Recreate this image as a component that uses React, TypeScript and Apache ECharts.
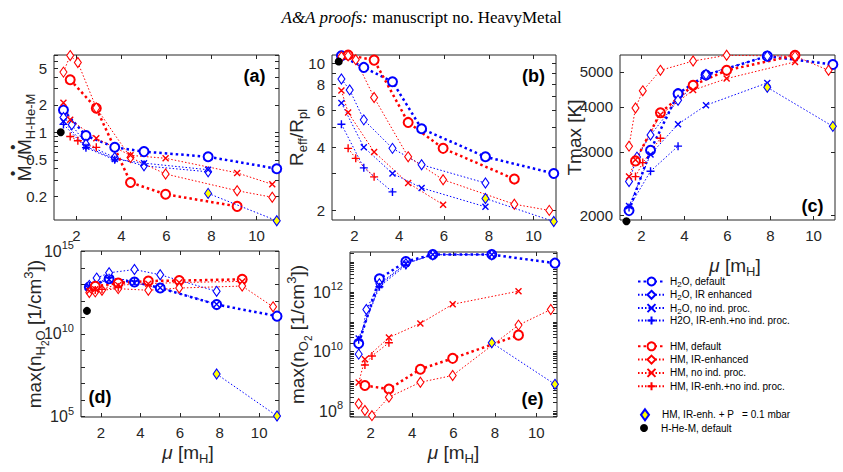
import React, { useEffect, useRef } from 'react';
import * as echarts from 'echarts';

// ---- mean molecular weight μ [m_H] of each model family ----
const muH2oDefault = [1.42, 2.42, 3.7, 5.0, 7.85, 10.9];
const muH2oIR = [1.42, 1.79, 2.42, 3.7, 5.0, 7.85];
const muH2oNoInd = [1.42, 2.42, 3.7, 5.0, 7.85];
const muH2oIRNoInd = [1.42, 2.42, 3.7];
const muHmDefault = [1.72, 2.88, 4.4, 5.96, 9.14];
const muHmIR = [1.42, 1.72, 2.06, 2.88, 4.4, 5.96, 9.14, 10.7];
const muHmNoInd = [1.42, 1.72, 2.88, 4.4, 5.96, 9.14, 10.7];
const muHmIRNoInd = [1.72, 2.06, 2.88];
const muLowP = [7.85, 10.9];
const muHHeM = [1.3];

// ---- (a) mass-loss rate relative to H-He-M ----
const aH2oDefault = [1.75, 0.92, 0.685, 0.615, 0.54, 0.4];
const aH2oIR = [1.45, 1.21, 0.74, 0.53, 0.43, 0.37];
const aH2oNoInd = [1.32, 0.7, 0.51, 0.46, 0.39];
const aH2oIRNoInd = [1.22, 0.68, 0.5];
const aHmDefault = [3.75, 1.83, 0.283, 0.21, 0.155];
const aHmIR = [4.55, 6.9, 5.8, 1.85, 0.53, 0.35, 0.23, 0.195];
const aHmNoInd = [2.1, 1.37, 0.86, 0.56, 0.52, 0.36, 0.27];
const aHmIRNoInd = [0.9, 0.81, 0.685];
const aLowP = [0.215, 0.108];
const aHHeM = [1.0];

// ---- (b) effective radius R_eff / R_pl ----
const bH2oDefault = [10.9, 9.6, 8.2, 4.9, 3.6, 3.0];
const bH2oIR = [8.45, 7.5, 5.4, 3.95, 3.3, 2.7];
const bH2oNoInd = [6.5, 4.0, 3.0, 2.56, 2.08];
const bH2oIRNoInd = [5.15, 3.19, 2.45];
const bHmDefault = [11.0, 10.4, 5.25, 3.95, 2.82];
const bHmIR = [10.8, 10.9, 10.45, 6.9, 3.6, 2.8, 2.14, 2.0];
const bHmNoInd = [7.45, 5.85, 3.8, 2.7, 2.13, null, null];
const bHmIRNoInd = [3.95, 3.54, 2.89];
const bLowP = [2.28, 1.77];
const bHHeM = [10.25];

// ---- (c) maximum temperature [K] ----
const cH2oDefault = [2060, 3030, 4350, 4900, 5530, 5240];
const cH2oIR = [2480, 2900, 3340, 4170, 4920, 5530];
const cH2oNoInd = [2120, 2950, 3580, 4040, 4660];
const cH2oIRNoInd = [2100, 2650, 3110];
const cHmDefault = [2830, 3850, 4590, 5050, 5560];
const cHmIR = [3110, 3970, 4430, 5050, 5360, 5560, 5530, 5050];
const cHmNoInd = [2560, 2850, 3800, 4450, 4790, 5330, null];
const cHmIRNoInd = [2560, 2800, 3270];
const cLowP = [4530, 3530];
const cHHeM = [1925];

// ---- (d) peak H2O number density [1/cm^3] ----
const dH2oDefault = [6.9e12, 2.2e13, 1.4e13, 6.0e12, 6.0e11, 1.2e11];
const dH2oIR = [8.7e12, 2.4e13, 5.0e13, 7.9e13, 3.8e13, 3.8e12];
const dH2oNoInd = [7.5e12, 2.0e13, 1.2e13, 6.3e12, 6.3e11];
const dH2oIRNoInd = [8.0e12, 2.5e13, 1.6e13];
const dHmDefault = [7.6e12, 1.2e13, 1.6e13, 1.7e13, 2.0e13];
const dHmIR = [3.2e12, 3.5e12, 4.4e12, 5.5e12, 4.4e12, 6.0e12, 7.9e12, 4.4e11];
const dHmNoInd = [4.0e12, 5.0e12, 9.0e12, 1.1e13, 1.3e13, 1.5e13, null];
const dHmIRNoInd = [4.5e12, 5.0e12, 6.5e12];
const dLowP = [3.8e7, 1.1e5];
const dHHeM = [2.5e11];

// ---- (e) peak O2 number density [1/cm^3] ----
const eH2oDefault = [1.9e10, 2.8e12, 1.05e13, 1.8e13, 1.8e13, 9.3e12];
const eH2oIR = [8.3e9, 2.6e11, 1.9e12, 8.9e12, 1.78e13, 1.78e13];
const eH2oNoInd = [2.8e10, 1.7e12, 8.9e12, 1.8e13, 1.8e13];
const eH2oIRNoInd = [2.5e10, 1.5e12, 7.9e12];
const eHmDefault = [7.4e8, 5.6e8, 2.6e9, 6.0e9, 3.6e10];
const eHmIR = [1.8e8, 1.07e8, 7.2e7, 3.0e8, 9.5e8, 1.6e9, 7.8e10, 2.6e11];
const eHmNoInd = [9.3e8, 5.6e9, 3.0e10, 8.9e10, 3.9e11, 1.07e12, null];
const eHmIRNoInd = [3.6e9, 7.2e9, 2.0e10];
const eLowP = [2.0e10, 8.1e8];

// ---- tick values ----
const xTickValues = [2, 4, 6, 8, 10];
const aTickLabels = [0.2, 0.5, 1, 2, 5];
const bTickLabels = [2, 4, 6, 8, 10];
const cTickLabels = [2000, 3000, 4000, 5000];
const dTickLabels = [1e5, 1e10, 1e15];
const eTickLabels = [1e8, 1e10, 1e12];

const FONT = '"Liberation Sans", Arial, Helvetica, sans-serif';
const SERIF = '"Liberation Serif", "Times New Roman", serif';
const AX = '#262626';
const BLUE = '#0000ff';
const RED = '#ff0000';
const YELLOW = '#ffff00';
const SYM_X = 'path://M0,0L10,10M10,0L0,10';
const SYM_PLUS = 'path://M5,0L5,10M0,5L10,5';

// decade (and optionally 2..9 sub-decade) tick positions of a log axis
function logTicks(min: number, max: number, minor: boolean): number[] {
  const out: number[] = [];
  const steps = minor ? [1, 2, 3, 4, 5, 6, 7, 8, 9] : [1];
  for (let k = Math.floor(Math.log10(min)); k <= Math.ceil(Math.log10(max)); k++) {
    for (const m of steps) {
      const v = Number((m * Math.pow(10, k)).toPrecision(6));
      if (v >= min && v <= max) out.push(v);
    }
  }
  return out;
}

type Family = {
  name: string;
  mu: number[];
  color: string;
  symbol: string;
  size: number | number[];
  lw: number;
  dash: number[];
  fill: string;
  bw: number;
  z: number;
};

const THIN = [1.5, 2];
const THICK = [2.5, 3];

const families: Family[] = [
  { name: 'H2O, default', mu: muH2oDefault, color: BLUE, symbol: 'circle', size: 9, lw: 2.5, dash: THICK, fill: '#fff', bw: 2, z: 2 },
  { name: 'H2O, IR enhanced', mu: muH2oIR, color: BLUE, symbol: 'diamond', size: [7, 10], lw: 1, dash: THIN, fill: '#fff', bw: 1.1, z: 2 },
  { name: 'H2O, no ind. proc.', mu: muH2oNoInd, color: BLUE, symbol: SYM_X, size: 6, lw: 1, dash: THIN, fill: BLUE, bw: 1.4, z: 2 },
  { name: 'H2O, IR-enh.+no ind. proc.', mu: muH2oIRNoInd, color: BLUE, symbol: SYM_PLUS, size: 8, lw: 1, dash: THIN, fill: BLUE, bw: 1.4, z: 2 },
  { name: 'HM, default', mu: muHmDefault, color: RED, symbol: 'circle', size: 9, lw: 2.5, dash: THICK, fill: '#fff', bw: 2, z: 2 },
  { name: 'HM, IR-enhanced', mu: muHmIR, color: RED, symbol: 'diamond', size: [7, 10], lw: 1, dash: THIN, fill: '#fff', bw: 1.1, z: 2 },
  { name: 'HM, no ind. proc.', mu: muHmNoInd, color: RED, symbol: SYM_X, size: 6, lw: 1, dash: THIN, fill: RED, bw: 1.4, z: 2 },
  { name: 'HM, IR-enh.+no ind. proc.', mu: muHmIRNoInd, color: RED, symbol: SYM_PLUS, size: 8, lw: 1, dash: THIN, fill: RED, bw: 1.4, z: 2 },
  { name: 'HM, IR-enh. + P   = 0.1 mbar', mu: muLowP, color: BLUE, symbol: 'diamond', size: [7, 10], lw: 1, dash: THIN, fill: YELLOW, bw: 1.1, z: 3 },
  { name: 'H-He-M, default', mu: muHHeM, color: '#000', symbol: 'circle', size: 8, lw: 0, dash: THIN, fill: '#000', bw: 0, z: 4 },
];

const legendText: Record<string, string> = {
  'H2O, default': '{t|H}{s|2}{t|O, default}',
  'H2O, IR enhanced': '{t|H}{s|2}{t|O, IR enhanced}',
  'H2O, no ind. proc.': '{t|H}{s|2}{t|O, no ind. proc.}',
  'H2O, IR-enh.+no ind. proc.': '{t|H2O, IR-enh.+no ind. proc.}',
  'HM, default': '{t|HM, default}',
  'HM, IR-enhanced': '{t|HM, IR-enhanced}',
  'HM, no ind. proc.': '{t|HM, no ind. proc.}',
  'HM, IR-enh.+no ind. proc.': '{t|HM, IR-enh.+no ind. proc.}',
  'HM, IR-enh. + P   = 0.1 mbar': '{g|HM, IR-enh. + P   = 0.1 mbar}',
  'H-He-M, default': '{g|H-He-M, default}',
};

const plainFmt = (v: number) => String(v);
const powFmt = (v: number) => `{b|10}{e|${Math.round(Math.log10(v))}}`;

// widths (px) of the glyph runs under the rate dots: "M", " /", subscript
const W_M = 15.8;
const W_SLASH = 10.6;
const W_SUB = 45.5;

const nameRich = {
  n: { fontSize: 19, lineHeight: 22, color: AX },
  mu: { fontSize: 19, lineHeight: 22, color: AX, fontStyle: 'italic' },
  s: { fontSize: 13, lineHeight: 13, padding: [12, 0, 0, 0], color: AX },
  ss: { fontSize: 10, lineHeight: 10, padding: [22, 0, 0, 0], color: AX },
  p: { fontSize: 13, lineHeight: 13, padding: [0, 0, 12, 0], color: AX },
  dt: { fontSize: 15, lineHeight: 1, width: W_M, align: 'center', color: AX, fontWeight: 'bold' },
  gp: { fontSize: 15, lineHeight: 1, width: W_SLASH, color: AX },
  tr: { fontSize: 15, lineHeight: 1, width: W_SUB, color: AX },
};

const muName = '{mu|μ}{n| [m}{s|H}{n|]}';

const panels = [
  {
    grid: { left: 54, top: 55, width: 225, height: 165 },
    yMin: 0.11, yMax: 7, ticks: logTicks(0.11, 7, true), labels: aTickLabels, fmt: plainFmt,
    yName: '{dt|•}{gp| }{dt|•}{tr| }\n{n|M /M}{s|H-He-M}', yGap: 19, xName: '', xGap: 0, xPad: 0,
    values: [aH2oDefault, aH2oIR, aH2oNoInd, aH2oIRNoInd, aHmDefault, aHmIR, aHmNoInd, aHmIRNoInd, aLowP, aHHeM],
    tag: '(a)', tagX: 254.5, tagY: 75.5,
  },
  {
    grid: { left: 332, top: 55, width: 224, height: 165 },
    yMin: 1.8, yMax: 11, ticks: logTicks(1.8, 11, true), labels: bTickLabels, fmt: plainFmt,
    yName: '{n|R}{s|eff}{n|/R}{s|pl}', yGap: 25, xName: '', xGap: 0, xPad: 0,
    values: [bH2oDefault, bH2oIR, bH2oNoInd, bH2oIRNoInd, bHmDefault, bHmIR, bHmNoInd, bHmIRNoInd, bLowP, bHHeM],
    tag: '(b)', tagX: 533.5, tagY: 75.5,
  },
  {
    grid: { left: 620, top: 55, width: 215, height: 165 },
    yMin: 1940, yMax: 5570, ticks: cTickLabels, labels: cTickLabels, fmt: plainFmt,
    yName: '{n|Tmax [K]}', yGap: 35, xName: muName, xGap: 34, xPad: 15,
    values: [cH2oDefault, cH2oIR, cH2oNoInd, cH2oIRNoInd, cHmDefault, cHmIR, cHmNoInd, cHmIRNoInd, cLowP, cHHeM],
    tag: '(c)', tagX: 812.5, tagY: 205.5,
  },
  {
    grid: { left: 81, top: 251, width: 198, height: 166 },
    yMin: 9.6e4, yMax: 1.04e15, ticks: logTicks(9.6e4, 1.04e15, false), labels: dTickLabels, fmt: powFmt,
    yName: '{n|max(n}{s|H}{ss|2}{s|O}{n| [1/cm}{p|3}{n|])}', yGap: 36, xName: muName, xGap: 24, xPad: 16,
    values: [dH2oDefault, dH2oIR, dH2oNoInd, dH2oIRNoInd, dHmDefault, dHmIR, dHmNoInd, dHmIRNoInd, dLowP, dHHeM],
    tag: '(d)', tagX: 100, tagY: 396.5,
  },
  {
    grid: { left: 350, top: 252, width: 207, height: 165 },
    yMin: 6.5e7, yMax: 2.2e13, ticks: logTicks(6.5e7, 2.2e13, true), labels: eTickLabels, fmt: powFmt,
    yName: '{n|max(n}{s|O}{ss|2}{n| [1/cm}{p|3}{n|])}', yGap: 42, xName: muName, xGap: 24, xPad: 0,
    values: [eH2oDefault, eH2oIR, eH2oNoInd, eH2oIRNoInd, eHmDefault, eHmIR, eHmNoInd, eHmIRNoInd, eLowP, null],
    tag: '(e)', tagX: 532.5, tagY: 398.5,
  },
];

// vertical centres of the legend rows
const legendRows = [
  { name: 'H2O, default', y: 281.5, sub: true },
  { name: 'H2O, IR enhanced', y: 294.8, sub: true },
  { name: 'H2O, no ind. proc.', y: 308.1, sub: true },
  { name: 'H2O, IR-enh.+no ind. proc.', y: 321.4, sub: false },
  { name: 'HM, default', y: 347.3, sub: false },
  { name: 'HM, IR-enhanced', y: 360.6, sub: false },
  { name: 'HM, no ind. proc.', y: 373.9, sub: false },
  { name: 'HM, IR-enh.+no ind. proc.', y: 387.2, sub: false },
];

function buildOption() {
  const grid: any[] = [];
  const xAxis: any[] = [];
  const yAxis: any[] = [];
  const series: any[] = [];
  const graphicEls: any[] = [];

  const tickStyle = { show: true, inside: true, length: 4, lineStyle: { color: AX, width: 1 } };

  panels.forEach((p, gi) => {
    grid.push({
      ...p.grid,
      show: true,
      borderColor: AX,
      borderWidth: 1,
      backgroundColor: 'transparent',
      containLabel: false,
      outerBoundsMode: 'none',
    });

    const xCommon = {
      type: 'value', gridIndex: gi, min: 1, max: 11,
      axisLine: { show: false }, splitLine: { show: false }, minorTick: { show: false },
    };
    xAxis.push({
      ...xCommon,
      position: 'bottom',
      axisTick: { ...tickStyle, customValues: xTickValues },
      axisLabel: { customValues: xTickValues, fontSize: 15, lineHeight: 16, color: AX, fontFamily: FONT, margin: 7 },
      name: p.xName || undefined,
      nameLocation: 'middle',
      nameGap: p.xGap,
      nameMoveOverlap: false,
      nameTextStyle: { fontFamily: FONT, fontSize: 19, color: AX, padding: [0, 0, 0, p.xPad], rich: nameRich },
    });
    xAxis.push({
      ...xCommon,
      position: 'top',
      axisTick: { ...tickStyle, customValues: xTickValues },
      axisLabel: { show: false },
    });

    const yCommon = {
      type: 'log', logBase: 10, gridIndex: gi, min: p.yMin, max: p.yMax,
      axisLine: { show: false }, splitLine: { show: false }, minorTick: { show: false },
    };
    yAxis.push({
      ...yCommon,
      position: 'left',
      axisTick: { ...tickStyle, customValues: p.ticks },
      axisLabel: {
        customValues: p.labels,
        formatter: p.fmt,
        fontSize: 15,
        color: AX,
        fontFamily: FONT,
        margin: 7,
        rich: {
          b: { fontSize: 16, color: AX, fontFamily: FONT },
          e: { fontSize: 11, color: AX, fontFamily: FONT, padding: [0, 0, 12, 0] },
        },
      },
      name: p.yName,
      nameLocation: 'middle',
      nameGap: p.yGap,
      nameMoveOverlap: false,
      nameTextStyle: { fontFamily: FONT, fontSize: 19, color: AX, rich: nameRich },
    });
    yAxis.push({
      ...yCommon,
      position: 'right',
      axisTick: { ...tickStyle, customValues: p.ticks },
      axisLabel: { show: false },
    });

    families.forEach((f, fi) => {
      const vals = p.values[fi];
      if (!vals) return;
      const data: number[][] = [];
      f.mu.forEach((m, i) => {
        const v = vals[i];
        if (v !== null && v !== undefined) data.push([m, v]);
      });
      series.push({
        type: 'line',
        name: f.name,
        xAxisIndex: gi * 2,
        yAxisIndex: gi * 2,
        data,
        symbol: f.symbol,
        symbolSize: f.size,
        symbolKeepAspect: true,
        showSymbol: true,
        showAllSymbol: true,
        clip: false,
        z: f.z,
        lineStyle: { color: f.color, width: f.lw, type: f.dash, opacity: f.lw > 0 ? 1 : 0 },
        itemStyle: { color: f.fill, borderColor: f.color, borderWidth: f.bw },
        emphasis: { disabled: true },
      });
    });

    graphicEls.push({
      type: 'text',
      x: p.tagX,
      y: p.tagY,
      style: {
        text: p.tag,
        fontSize: 18,
        fontWeight: 'bold',
        fontFamily: FONT,
        fill: '#000',
        align: 'center',
        verticalAlign: 'middle',
        textAlign: 'center',
        textVerticalAlign: 'middle',
      },
    });
  });

  const legendTextStyle = {
    fontSize: 10,
    fontFamily: FONT,
    color: '#000',
    rich: {
      t: { fontSize: 10, lineHeight: 12, color: '#000' },
      s: { fontSize: 8, lineHeight: 8, padding: [6, 0, 0, 0], color: '#000' },
      g: { fontSize: 10, lineHeight: 12, padding: [0, 0, 0, 8], color: '#000' },
    },
  };

  const legend: any[] = legendRows.map((r) => ({
    data: [r.name],
    left: 637,
    top: r.y - (r.sub ? 7 : 6),
    orient: 'vertical',
    padding: 0,
    itemGap: 0,
    itemWidth: 27,
    itemHeight: 10,
    selectedMode: false,
    formatter: (n: string) => legendText[n],
    textStyle: legendTextStyle,
  }));
  legend.push({
    data: [{ name: 'HM, IR-enh. + P   = 0.1 mbar', icon: 'diamond' }],
    left: 640,
    top: 414.3 - 6,
    padding: 0,
    itemWidth: 8,
    itemHeight: 11,
    selectedMode: false,
    formatter: (n: string) => legendText[n],
    textStyle: legendTextStyle,
  });
  legend.push({
    data: [{ name: 'H-He-M, default', icon: 'circle' }],
    left: 640,
    top: 429 - 6,
    padding: 0,
    itemWidth: 8,
    itemHeight: 8,
    selectedMode: false,
    formatter: (n: string) => legendText[n],
    textStyle: legendTextStyle,
  });

  return {
    animation: false,
    backgroundColor: '#fff',
    title: {
      text: '{i|A&A proofs:} manuscript no. HeavyMetal',
      left: 'center',
      top: 4,
      textStyle: {
        fontFamily: SERIF,
        fontSize: 17,
        fontWeight: 'normal',
        color: '#000',
        rich: { i: { fontFamily: SERIF, fontSize: 17, fontStyle: 'italic', color: '#000' } },
      },
    },
    grid,
    xAxis,
    yAxis,
    legend,
    series,
    graphic: { elements: graphicEls },
  };
}

export default function App() {
  const ref = useRef<HTMLDivElement>(null);
  useEffect(() => {
    if (!ref.current) return;
    const chart = echarts.init(ref.current, undefined, { renderer: 'svg' });
    chart.setOption(buildOption() as any);
    return () => chart.dispose();
  }, []);
  return (
    <div
      ref={ref}
      style={{ position: 'fixed', left: 0, top: 0, width: 843, height: 472, background: '#fff' }}
    />
  );
}
